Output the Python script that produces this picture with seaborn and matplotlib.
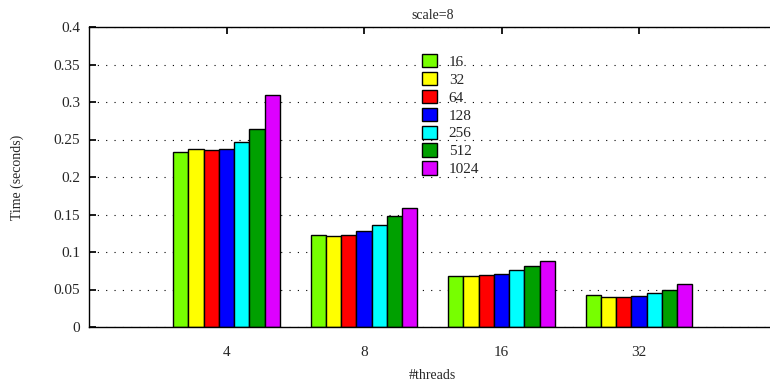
import pandas as pd
import seaborn as sns
import matplotlib.pyplot as plt

# values
threads = ["4", "8", "16", "32"]
sizes = ["16", "32", "64", "128", "256", "512", "1024"]
t16 = [0.233, 0.123, 0.0685, 0.0423]
t32 = [0.237, 0.122, 0.068, 0.040]
t64 = [0.236, 0.123, 0.069, 0.0404]
t128 = [0.237, 0.128, 0.071, 0.041]
t256 = [0.247, 0.136, 0.0756, 0.0453]
t512 = [0.264, 0.148, 0.0813, 0.0489]
t1024 = [0.309, 0.159, 0.0876, 0.0578]
colors = ["#77ff00", "#ffff00", "#ff0000", "#0000ff", "#00ffff", "#00a000", "#dd00ff"]

series = [t16, t32, t64, t128, t256, t512, t1024]
rows = []
for size, vals in zip(sizes, series):
    for th, v in zip(threads, vals):
        rows.append({"threads": th, "size": size, "time": v})
df = pd.DataFrame(rows)

sns.set_theme(style="white")
plt.rcParams["font.family"] = ["Liberation Serif", "DejaVu Serif"]
plt.rcParams["font.size"] = 11

fig = plt.figure(figsize=(7.7, 3.91), dpi=100)
# right edge of the axes runs past the figure like in the reference
ax = fig.add_axes([89 / 770, 64 / 391, 687.5 / 770, 300 / 391])

sns.barplot(data=df, x="threads", y="time", hue="size", order=threads,
            hue_order=sizes, palette=colors, width=7 / 9, gap=0,
            edgecolor="black", linewidth=1.0, saturation=1, ax=ax)

ax.set_xlim(-1, 4)
ax.set_ylim(0, 0.4)
yt = [0, 0.05, 0.1, 0.15, 0.2, 0.25, 0.3, 0.35, 0.4]
ax.set_yticks(yt, ["0", "0.05", "0.1", "0.15", "0.2", "0.25", "0.3", "0.35", "0.4"])
ax.yaxis.grid(True, color="black", linestyle=(0, (1, 6.5)), linewidth=0.8)
ax.set_axisbelow(True)

for s in ax.spines.values():
    s.set_visible(True)
    s.set_color("black")
    s.set_linewidth(1.0)

ax.tick_params(axis="x", direction="in", length=5, top=True, bottom=True,
               pad=14, labelsize=11, color="black")
ax.tick_params(axis="y", direction="in", length=5, left=True, right=True,
               pad=6.5, labelsize=11, color="black")

ax.set_title("scale=8", fontsize=10, pad=6)
ax.set_xlabel("#threads", fontsize=10)
ax.set_ylabel("Time (seconds)", fontsize=10)
ax.xaxis.set_label_coords(0.5, -0.14)
ax.yaxis.set_label_coords(-0.095, 0.5)

handles, labels = ax.get_legend_handles_labels()
ax.legend(handles, labels, loc="upper left", bbox_to_anchor=(422 / 770, 1 - 54 / 391),
          bbox_transform=fig.transFigure, frameon=False, fontsize=11,
          handlelength=0.95, handleheight=0.95, handletextpad=0.8,
          labelspacing=0.2, borderpad=0, borderaxespad=0)

fig.savefig("out.png", dpi=100)
